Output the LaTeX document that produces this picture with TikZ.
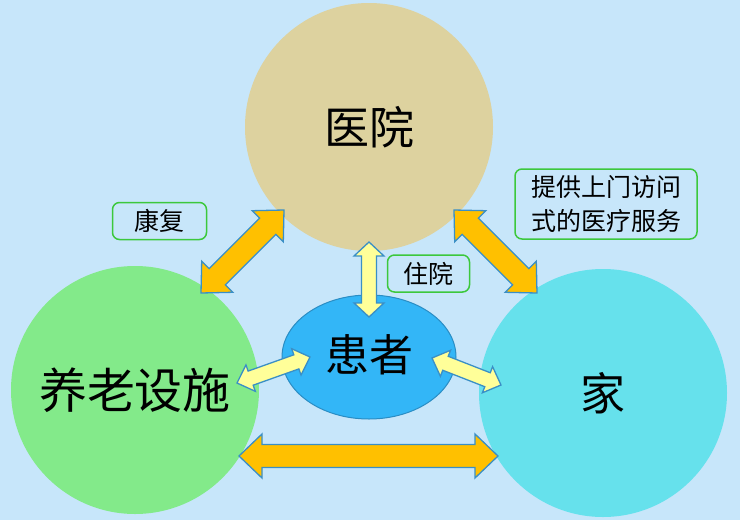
\documentclass[tikz,border=0pt]{standalone}
\usepackage{fontspec}
\setmainfont{Noto Sans CJK SC}
\usetikzlibrary{calc,shapes.geometric}
\definecolor{bgblue}{HTML}{C7E6FA}
\definecolor{hosptan}{HTML}{DDD29F}
\definecolor{facgreen}{HTML}{83EA8A}
\definecolor{homecyan}{HTML}{66E1EC}
\definecolor{patblue}{HTML}{33B6F7}
\definecolor{patedge}{HTML}{2A8DC4}
\definecolor{arrorange}{HTML}{FFC000}
\definecolor{arryellow}{HTML}{FFFF99}
\definecolor{arredge}{HTML}{3A8FC6}
\definecolor{taggreen}{HTML}{3CC83C}
\tikzset{
  place/.style={circle, minimum size=248pt, inner sep=0pt},
  patient/.style={ellipse, draw=patedge, line width=1pt, fill=patblue,
    minimum width=174pt, minimum height=124pt, inner sep=0pt},
  tag/.style={draw=taggreen, line width=1.5pt, rounded corners=7pt,
    inner sep=0pt, font=\fontsize{25}{34}\selectfont},
  bigarr/.style={fill=arrorange, draw=arredge, line width=1.3pt, line join=miter},
  smallarr/.style={fill=arryellow, draw=arredge, line width=1.3pt, line join=miter},
  every picture/.style={line cap=round, line join=round}
}
% #1 style, #2 #3 tips, #4 half shaft, #5 half head, #6 head length
\newcommand\dblarr[6]{%
  \draw[#1] (#2) -- ($(#2)!#6!(#3)!#5!90:(#3)$) -- ($(#2)!#6!(#3)!#4!90:(#3)$)
    -- ($(#3)!#6!(#2)!#4!-90:(#2)$) -- ($(#3)!#6!(#2)!#5!-90:(#2)$) -- (#3)
    -- ($(#3)!#6!(#2)!#5!90:(#2)$) -- ($(#3)!#6!(#2)!#4!90:(#2)$)
    -- ($(#2)!#6!(#3)!#4!-90:(#3)$) -- ($(#2)!#6!(#3)!#5!-90:(#3)$) -- cycle;}

\begin{document}
\begin{tikzpicture}[x=1pt, y=-1pt]
    \fill[bgblue] (0,0) rectangle (740,520);
    \useasboundingbox (0,0) rectangle (740,520);

    \node[place, fill=hosptan, font=\fontsize{45}{48}\selectfont] (hosp) at (369,127) {医院};
    \node[place, fill=facgreen, font=\fontsize{48}{50}\selectfont] (fac) at (135,390) {养老设施};
    \node[place, fill=homecyan, font=\fontsize{45}{48}\selectfont] (home) at (603,393) {家};
    \node[patient] (pat) at (369,357) {};
    \node[font=\fontsize{44}{46}\selectfont] (patlbl) at (369,355) {患者};

    % arrow tips
    \coordinate (fac-ne) at (201,293);
    \coordinate (hosp-sw) at (284,210);
    \coordinate (hosp-se) at (454,210);
    \coordinate (home-nw) at (537,293);
    \coordinate (fac-e) at (239,456);
    \coordinate (home-w) at (498,456);
    \coordinate (hosp-s) at (369,242);
    \coordinate (pat-n) at (369,317);
    \coordinate (fac-r) at (237,383);
    \coordinate (pat-w) at (310,357);
    \coordinate (pat-e) at (432,358);
    \coordinate (home-l) at (501,385);

    \dblarr{bigarr}{fac-ne}{hosp-sw}{11.5pt}{22pt}{23pt}
    \dblarr{bigarr}{hosp-se}{home-nw}{11.5pt}{22pt}{23pt}
    \dblarr{bigarr}{fac-e}{home-w}{11.5pt}{22pt}{23pt}
    \dblarr{smallarr}{hosp-s}{pat-n}{7.5pt}{15pt}{14pt}
    \dblarr{smallarr}{fac-r}{pat-w}{7.5pt}{14pt}{14.5pt}
    \dblarr{smallarr}{pat-e}{home-l}{7.5pt}{14pt}{14.5pt}

    \node[tag, minimum width=94pt, minimum height=37pt] (rehab) at (159.5,221) {康复};
    \node[tag, minimum width=82pt, minimum height=37pt] (admit) at (428.5,273.5) {住院};
    \node[tag, minimum width=182pt, minimum height=70pt, align=center] (visit) at (606,204)
      {提供上门访问\\式的医疗服务};
\end{tikzpicture}
\end{document}
